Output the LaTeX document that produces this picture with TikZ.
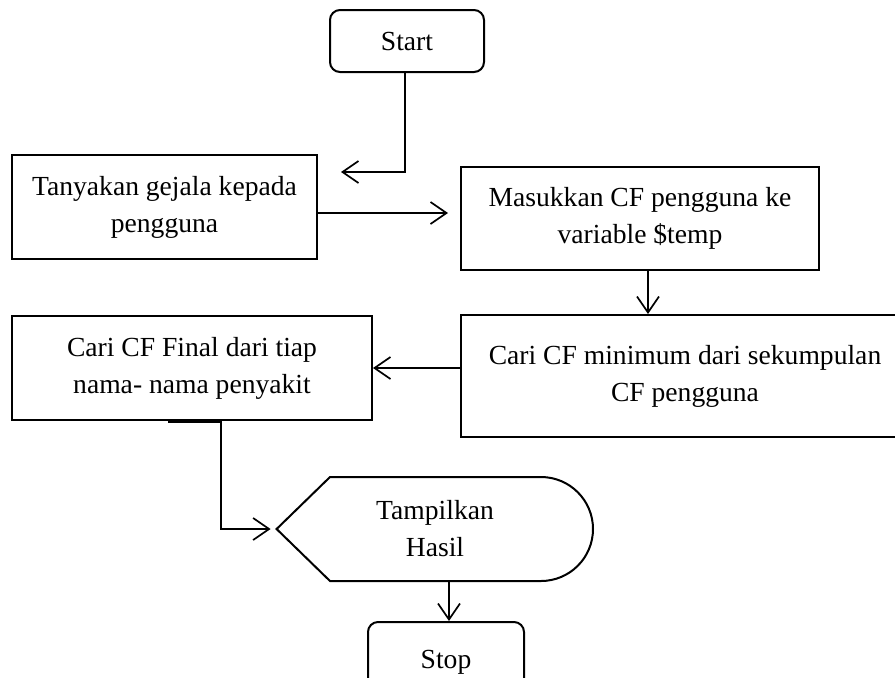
\documentclass[tikz,border=0pt]{standalone}
\usepackage{fontspec}
\setmainfont{Liberation Serif}
\usetikzlibrary{arrows.meta, positioning, calc}

\begin{document}
\begin{tikzpicture}[x=0.5pt, y=-0.5pt,
    every node/.style={align=center, font=\fontsize{13.8}{18.5}\selectfont},
    term/.style={rectangle, rounded corners=5pt, draw, line width=1pt, inner sep=0pt},
    proc/.style={rectangle, draw, line width=1pt, inner sep=0pt},
    arr/.style={-{Straight Barb[length=8pt, width=11pt]}, line width=0.85pt}
  ]
    \useasboundingbox (0,0) rectangle (895,677);
    \clip (0,0) rectangle (895,677);

    % ── Start / Stop
    \node[term, minimum width=77pt, minimum height=31pt] (start) at (407,41) {Start};
    \node[term, minimum width=78pt, minimum height=40pt] (stop) at (446,662) {Stop};

    % ── Process boxes
    \node[proc, minimum width=152.5pt, minimum height=52pt] (tanya) at (164.5,207)
      {Tanyakan gejala kepada\\pengguna};
    \node[proc, minimum width=179pt, minimum height=51.5pt] (masuk) at (640,218.5)
      {Masukkan CF pengguna ke\\variable \$temp};
    \node[proc, minimum width=224pt, minimum height=61pt] (cfmin) at (685,376)
      {Cari CF minimum dari sekumpulan\\CF pengguna};
    \node[proc, minimum width=180pt, minimum height=52pt] (cffinal) at (192,368)
      {Cari CF Final dari tiap\\nama- nama penyakit};

    % ── Display
    \node[minimum width=158pt, minimum height=52pt, inner sep=0pt] (tampil) at (435,529)
      {Tampilkan\\Hasil};
    \draw[line width=1pt] (tampil.west) -- (330,477) -- (541,477)
      arc[start angle=-90, end angle=90, radius=52] -- (330,581) -- cycle;

    % ── Arrows
    \coordinate (askin) at (341,172);
    \draw[arr] (start.south -| 405,0) |- (askin);
    \draw[arr, shorten >=6pt] (tanya.east |- 0,213) -- (masuk.west |- 0,213);
    \draw[arr] (masuk.south -| 648,0) -- (cfmin.north -| 648,0);
    \draw[arr] (cfmin.west |- cffinal.east) -- (cffinal.east);
    \draw[line width=1.5pt] (cffinal.south -| 168,0) -- (cffinal.south -| 221,0);
    \draw[arr, shorten >=3pt] (cffinal.south -| 221,0) |- (tampil.west);
    \draw[arr] (tampil.south -| 449,0) -- (stop.north -| 449,0);
  \end{tikzpicture}
\end{document}
